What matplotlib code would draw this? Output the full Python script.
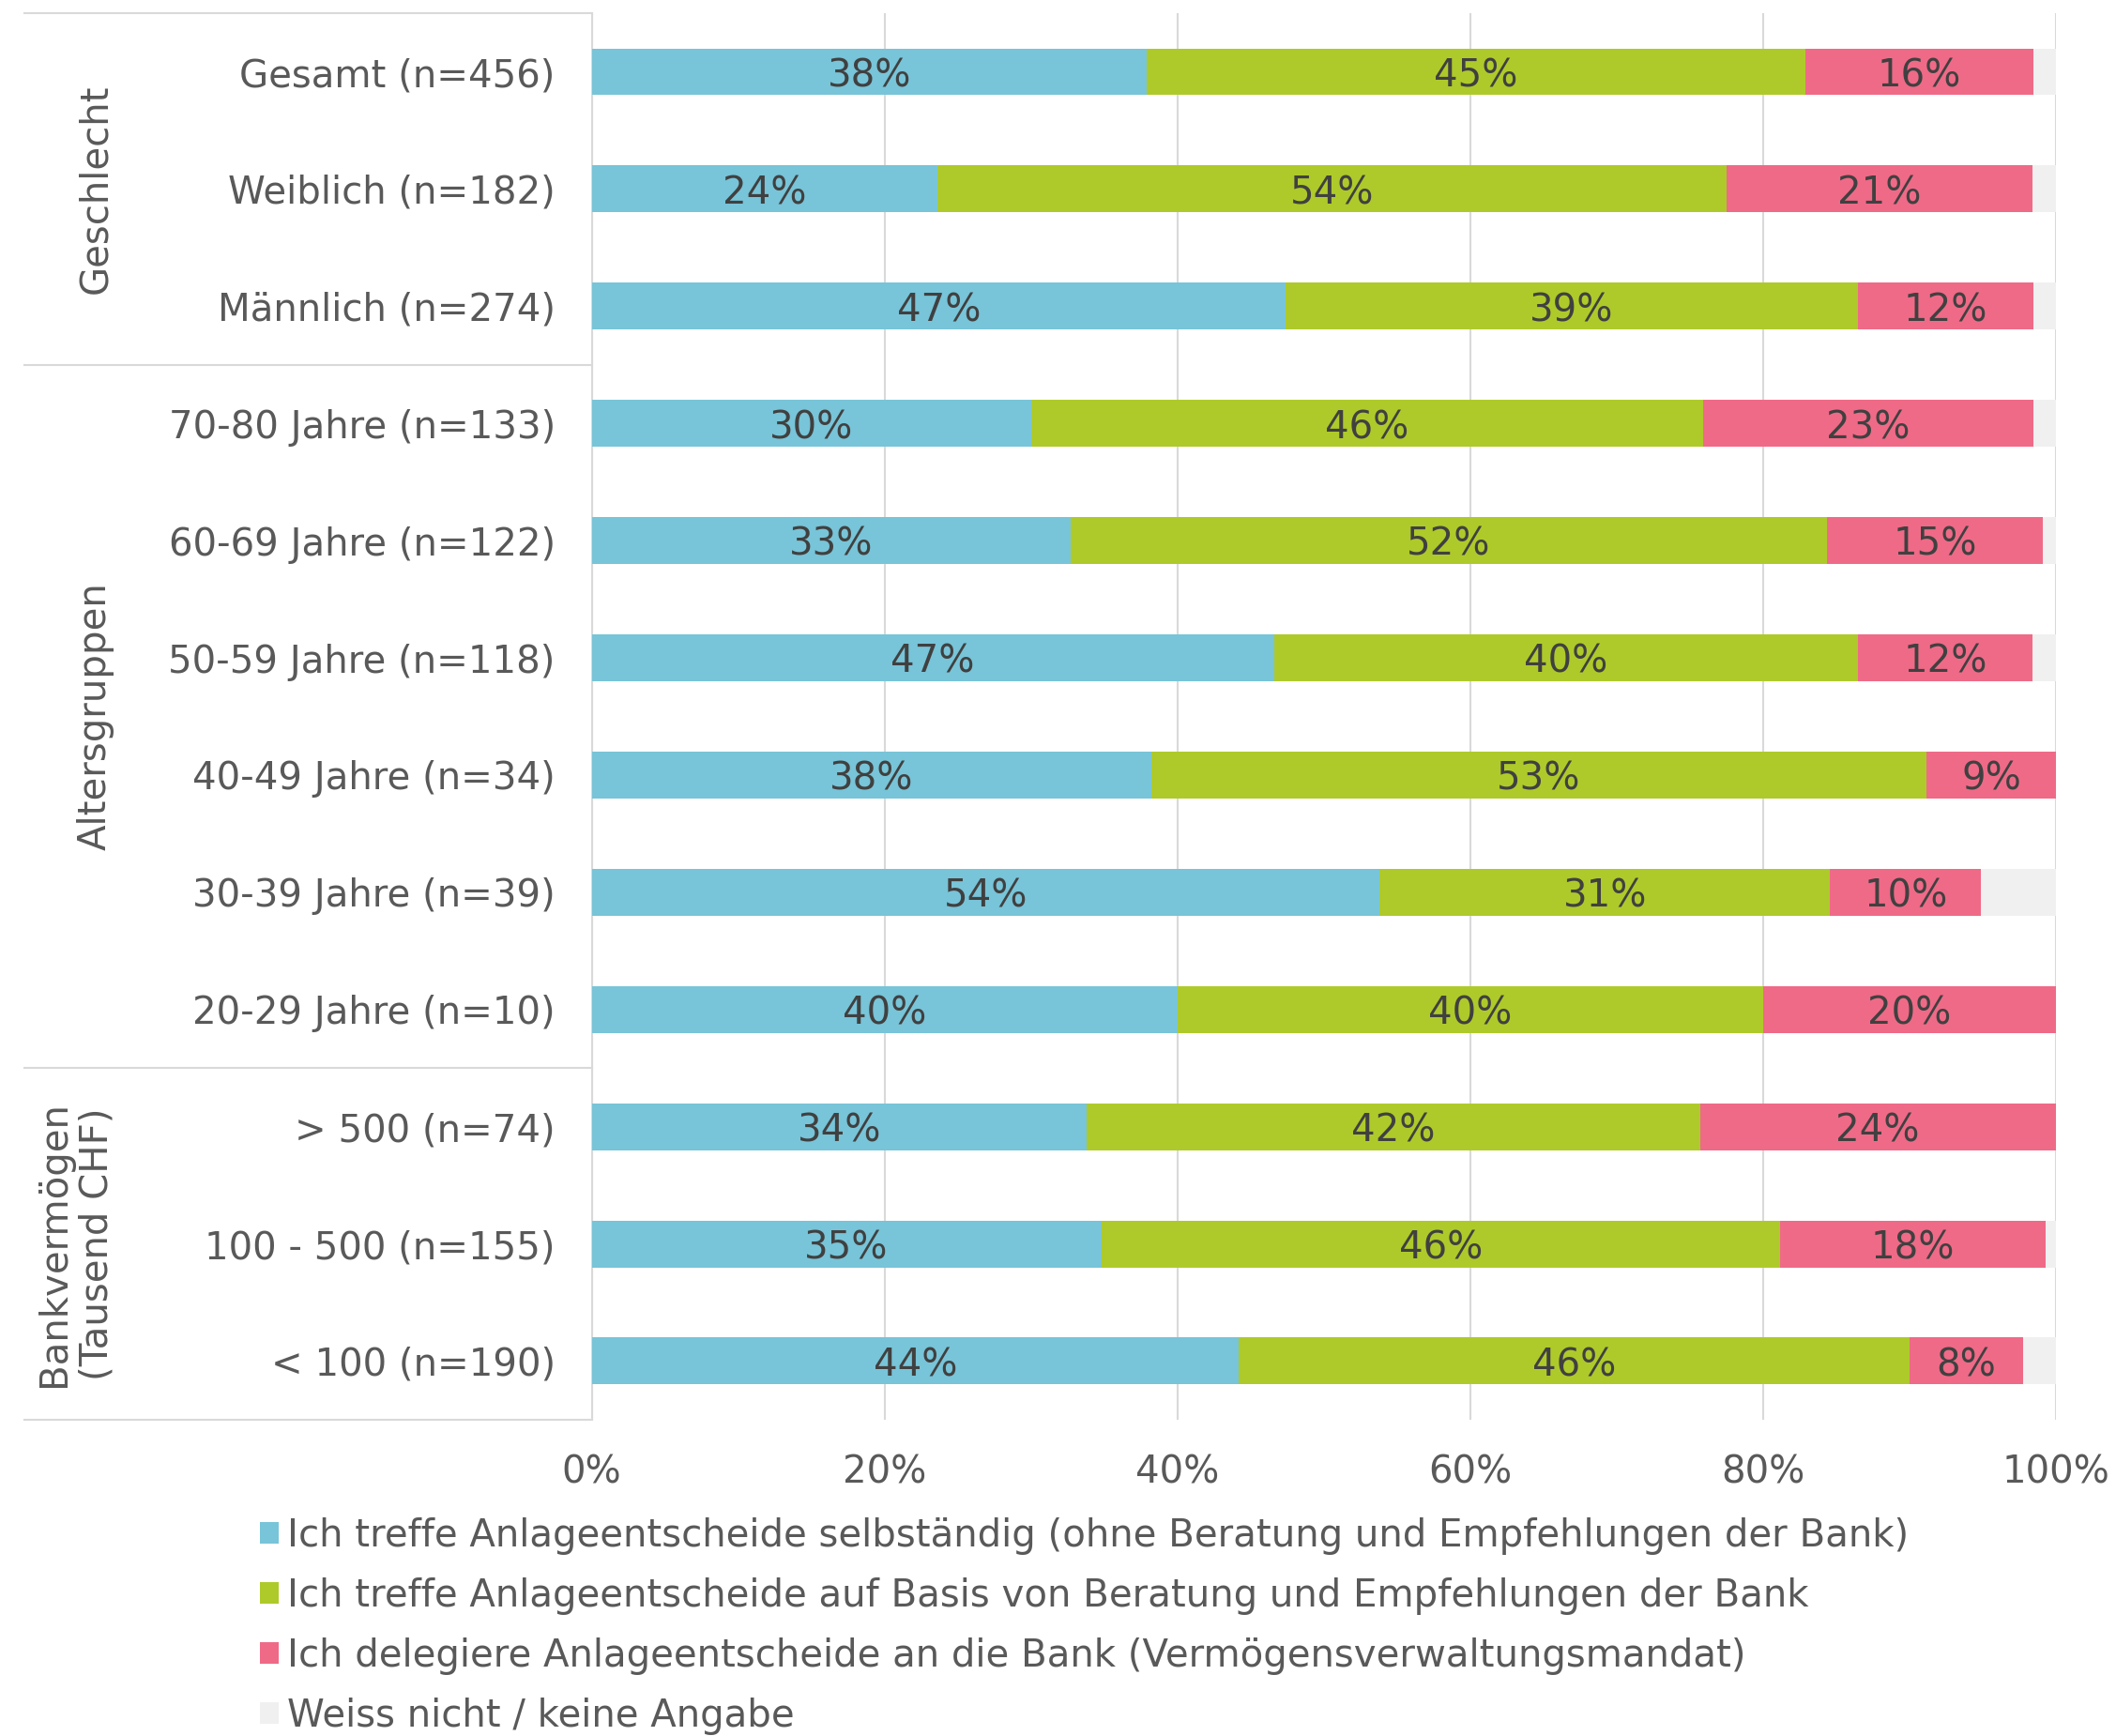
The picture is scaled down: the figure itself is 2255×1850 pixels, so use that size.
import matplotlib
matplotlib.use("Agg")
import matplotlib.pyplot as plt
from matplotlib.lines import Line2D

# ---- data ----
categories = ["Gesamt (n=456)", "Weiblich (n=182)", "Männlich (n=274)",
              "70-80 Jahre (n=133)", "60-69 Jahre (n=122)", "50-59 Jahre (n=118)",
              "40-49 Jahre (n=34)", "30-39 Jahre (n=39)", "20-29 Jahre (n=10)",
              "> 500 (n=74)", "100 - 500 (n=155)", "< 100 (n=190)"]
selbst = [37.9, 23.6, 47.4, 30.0, 32.7, 46.6, 38.2, 53.8, 40.0, 33.8, 34.8, 44.2]
beratung = [45.0, 53.9, 39.1, 45.9, 51.7, 39.9, 53.0, 30.8, 40.0, 41.9, 46.4, 45.8]
delegiert = [15.6, 20.9, 12.0, 22.6, 14.7, 11.9, 8.8, 10.3, 20.0, 24.3, 18.1, 7.8]
weissnicht = [1.5, 1.6, 1.5, 1.5, 0.9, 1.6, 0.0, 5.1, 0.0, 0.0, 0.7, 2.2]

series_labels = ["Ich treffe Anlageentscheide selbständig (ohne Beratung und Empfehlungen der Bank)",
                 "Ich treffe Anlageentscheide auf Basis von Beratung und Empfehlungen der Bank",
                 "Ich delegiere Anlageentscheide an die Bank (Vermögensverwaltungsmandat)",
                 "Weiss nicht / keine Angabe"]
groups = ["Geschlecht", "Altersgruppen", "Bankvermögen\n(Tausend CHF)"]
group_sizes = [3, 6, 3]
xticks = [0, 20, 40, 60, 80, 100]
xtick_labels = ["0%", "20%", "40%", "60%", "80%", "100%"]

colors = ["#78C4D8", "#AECA2A", "#EF6A87", "#F0F0F0"]
show_labels = [True, True, True, False]

plt.rcParams['font.family'] = ['DejaVu Sans']

fig = plt.figure(figsize=(22.55, 18.5), dpi=100)
ax = fig.add_axes([0.2797, 0.1822, 0.9715 - 0.2797, 0.9924 - 0.1822])

FS = 29
grid_col = "#D9D9D9"
y = list(range(len(categories)))
left = [0.0] * len(categories)
for vals, col, lab, show in zip([selbst, beratung, delegiert, weissnicht], colors, series_labels, show_labels):
    ax.barh(y, vals, left=left, height=0.4, color=col, label=lab, zorder=3, linewidth=0)
    if show:
        for yi, l, v in zip(y, left, vals):
            ax.annotate(f"{round(v)}%", xy=(l + v / 2, yi), xytext=(0, -3.5),
                        textcoords='offset points', ha='center', va='center',
                        fontsize=FS, color="#404040", zorder=4)
    left = [l + v for l, v in zip(left, vals)]

ax.set_xlim(0, 100)
ax.set_ylim(len(categories) - 0.5, -0.5)
ax.set_xticks(xticks)
ax.set_xticklabels(xtick_labels, fontsize=FS, color="#595959")
ax.set_yticks(y)
ax.set_yticklabels(categories, fontsize=FS, color="#595959")
ax.tick_params(axis='both', length=0)
ax.tick_params(axis='x', pad=26)
ax.tick_params(axis='y', pad=28)
ax.xaxis.grid(True, color=grid_col, linewidth=1.5, zorder=0)
ax.set_axisbelow(True)
for s in ["top", "right", "bottom"]:
    ax.spines[s].set_visible(False)
ax.spines["left"].set_color(grid_col)
ax.spines["left"].set_linewidth(1.5)

# group separators and group labels
trans = ax.get_yaxis_transform()
x_line_start = -0.3876
bounds = [-0.5]
for g in group_sizes:
    bounds.append(bounds[-1] + g)
for b in bounds:
    ax.add_line(Line2D([x_line_start, 0], [b, b], transform=trans, color=grid_col,
                       linewidth=1.5, clip_on=False))
group_x = [-0.3390, -0.3390, -0.3525]
for name, b0, b1, gx in zip(groups, bounds[:-1], bounds[1:], group_x):
    ax.text(gx, (b0 + b1) / 2, name, transform=trans, rotation=90, ha='center', va='center',
            fontsize=FS, color="#595959", multialignment='center', linespacing=1.2)

handles, labels = ax.get_legend_handles_labels()
leg = fig.legend(handles, labels, loc='upper left', bbox_to_anchor=(0.1227, 0.1262),
                 frameon=False, fontsize=FS, handlelength=0.5, handleheight=0.5,
                 handletextpad=0.22, labelspacing=0.6, borderpad=0, borderaxespad=0)
for t in leg.get_texts():
    t.set_color("#595959")

fig.savefig("out.png", dpi=100)
